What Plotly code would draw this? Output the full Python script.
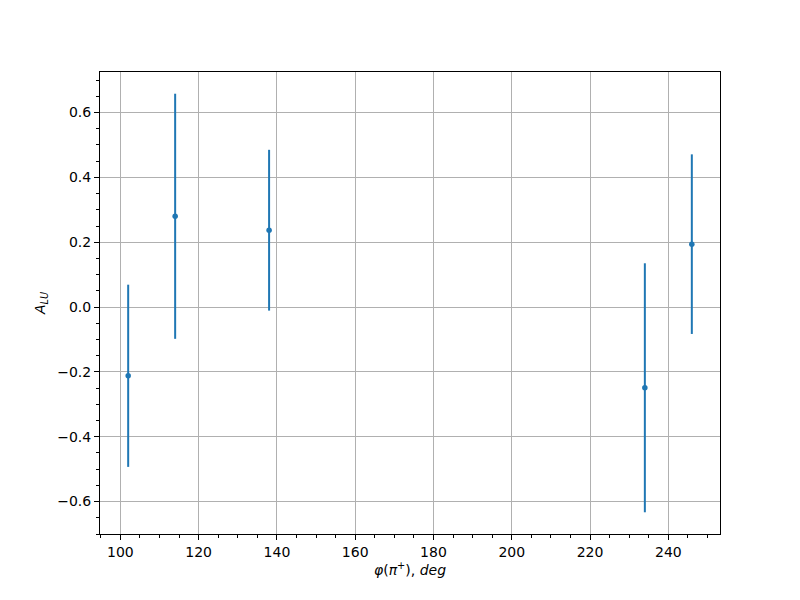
import plotly.graph_objects as go

phi = [102, 114, 138, 234, 246]
alu = [-0.212, 0.280, 0.237, -0.249, 0.194]
alu_err = [0.281, 0.378, 0.248, 0.384, 0.277]

fig = go.Figure()
fig.add_trace(go.Scatter(
    x=phi, y=alu, mode="markers",
    marker=dict(color="#1f77b4", size=5.5),
    error_y=dict(type="data", array=alu_err, visible=True, color="#1f77b4",
                 thickness=2, width=0),
    showlegend=False,
))

axis_common = dict(
    showline=True, linecolor="black", linewidth=1, mirror=True,
    showgrid=True, gridcolor="#b0b0b0", gridwidth=1,
    ticks="outside", ticklen=5, tickwidth=1, tickcolor="black",
    zeroline=False,
    tickfont=dict(family="DejaVu Sans", size=14, color="black"),
)

fig.update_xaxes(
    range=[94.8, 253.2], tick0=100, dtick=20,
    minor=dict(ticks="outside", ticklen=3, tickcolor="black", dtick=5, tick0=100, showgrid=False),
    title=dict(text="<i>φ</i>(<i>π</i><sup>+</sup>), <i>deg</i>",
               font=dict(family="DejaVu Sans", size=14, color="black"), standoff=4),
    **axis_common,
)
fig.update_yaxes(
    range=[-0.700, 0.725], tick0=0, dtick=0.2, tickformat=".1f",
    minor=dict(ticks="outside", ticklen=3, tickcolor="black", dtick=0.05, tick0=0, showgrid=False),
    title=dict(text="<i>A</i><sub><i>LU</i></sub>",
               font=dict(family="DejaVu Sans", size=14, color="black"), standoff=8),
    **axis_common,
)

fig.update_layout(
    width=800, height=600,
    margin=dict(l=92, r=88, t=64, b=74),
    plot_bgcolor="white", paper_bgcolor="white",
)

fig.write_html("out.html")
